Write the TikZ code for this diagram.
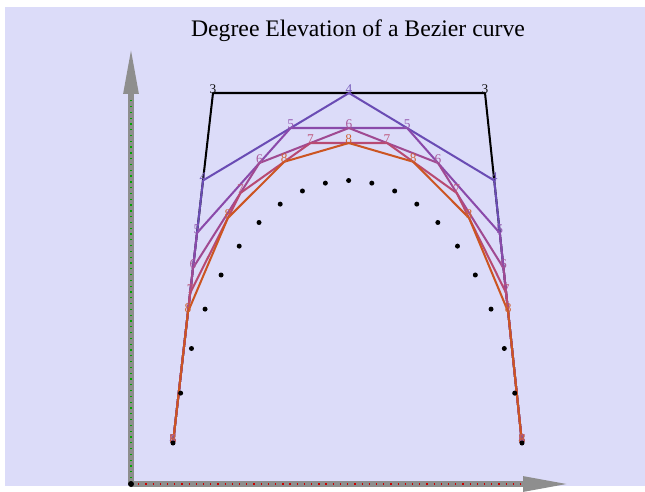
\documentclass[tikz,border=0pt]{standalone}
\usepackage{fontspec}
\setmainfont{Liberation Serif}
\usetikzlibrary{arrows.meta}
\definecolor{ElevBack}{HTML}{DCDCF9}
\definecolor{ElevAxis}{HTML}{8E8E8E}
\definecolor{ElevThree}{HTML}{000000}
\definecolor{ElevFour}{HTML}{6A4CB4}
\definecolor{ElevFive}{HTML}{8A4AAA}
\definecolor{ElevSix}{HTML}{A04A92}
\definecolor{ElevSeven}{HTML}{B84A72}
\definecolor{ElevEight}{HTML}{CC5522}
\begin{document}
\begin{tikzpicture}[x=0.02cm,y=-0.02cm,
    polyline/.style={line width=1.15pt,line join=round},
    vlabel/.style={anchor=base,inner sep=0pt,yshift=-0.5pt,
      font=\fontsize{7.6}{8}\selectfont},
    axisbar/.style={ElevAxis,line width=3.3pt},
    axistip/.style={-{Triangle[length=0.94cm,width=0.28cm]}}]

  % page and backdrop
  \fill[white] (0,0) rectangle (645,486);
  \fill[ElevBack] (5,7) rectangle (645,486);

  \node[font=\fontsize{13.5}{15}\selectfont] (title) at (358,31)
    {Degree Elevation of a Bezier curve};

  % axes
  \coordinate (origin) at (131,484);
  \coordinate (ybase) at (131,96);
  \coordinate (ytip) at (131,47);
  \coordinate (xbase) at (521,484);
  \coordinate (xtip) at (570,484);
  \draw[axisbar,axistip] (origin) -- (ytip);
  \draw[axisbar,axistip] (origin) -- (xtip);
  \draw[green!65!black,line width=1pt,dash pattern=on 0.7pt off 2.6pt]
    (origin) -- (ybase);
  \draw[red!80!black,line width=1pt,dash pattern=on 0.7pt off 3.4pt]
    (origin) -- (xbase);
  \fill[black] (origin) circle[radius=0.06cm];

  % control points of each degree
  \foreach \px/\py [count=\i from 0] in {173/443,213/93,485/93,522/443}
    \coordinate (d3-\i) at (\px,\py);
  \foreach \px/\py [count=\i from 0] in
      {173/443,203/180.5,349/93,494.25/180.5,522/443}
    \coordinate (d4-\i) at (\px,\py);
  \foreach \px/\py [count=\i from 0] in
      {173/443,197/233,290.6/128,407.1/128,499.8/233,522/443}
    \coordinate (d5-\i) at (\px,\py);
  \foreach \px/\py [count=\i from 0] in
      {173/443,193/268,259.4/163,348.85/128,438/163,503.5/268,522/443}
    \coordinate (d6-\i) at (\px,\py);
  \foreach \px/\py [count=\i from 0] in
      {173/443,190.14/293,240.43/193,310.51/143,387.06/143,
       456.71/193,506.14/293,522/443}
    \coordinate (d7-\i) at (\px,\py);
  \foreach \px/\py [count=\i from 0] in
      {173/443,188/311.75,227.86/218,284.23/161.75,348.79/143,
       413.18/161.75,469.07/218,508.13/311.75,522/443}
    \coordinate (d8-\i) at (\px,\py);

  % control polygons
  \draw[polyline,ElevThree] (d3-0) -- (d3-1) -- (d3-2) -- (d3-3);
  \draw[polyline,ElevFour] (d4-0) -- (d4-1) -- (d4-2) -- (d4-3) -- (d4-4);
  \draw[polyline,ElevFive] (d5-0) -- (d5-1) -- (d5-2) -- (d5-3)
    -- (d5-4) -- (d5-5);
  \draw[polyline,ElevSix] (d6-0) -- (d6-1) -- (d6-2) -- (d6-3)
    -- (d6-4) -- (d6-5) -- (d6-6);
  \draw[polyline,ElevSeven] (d7-0) -- (d7-1) -- (d7-2) -- (d7-3)
    -- (d7-4) -- (d7-5) -- (d7-6) -- (d7-7);
  \draw[polyline,ElevEight] (d8-0) -- (d8-1) -- (d8-2) -- (d8-3)
    -- (d8-4) -- (d8-5) -- (d8-6) -- (d8-7) -- (d8-8);

  % vertex numbers
  \foreach \n/\last/\col in {3/3/ElevThree,4/4/ElevFour,5/5/ElevFive,
      6/6/ElevSix,7/7/ElevSeven,8/8/ElevEight}
    \foreach \i in {0,...,\last}
      \node[vlabel,text=\col!92!white] (l\n-\i) at (d\n-\i) {\n};

  % points on the cubic
  \foreach \k in {0,...,20} {
    \pgfmathsetmacro{\t}{\k/20}
    \pgfmathsetmacro{\bx}{(1-\t)^3*173+3*\t*(1-\t)^2*213+3*\t^2*(1-\t)*485+\t^3*522}
    \pgfmathsetmacro{\by}{(1-\t)^3*443+3*\t*(1-\t)^2*93+3*\t^2*(1-\t)*93+\t^3*443}
    \fill[black] (\bx,\by) circle[radius=0.05cm];
  }

\end{tikzpicture}
\end{document}
